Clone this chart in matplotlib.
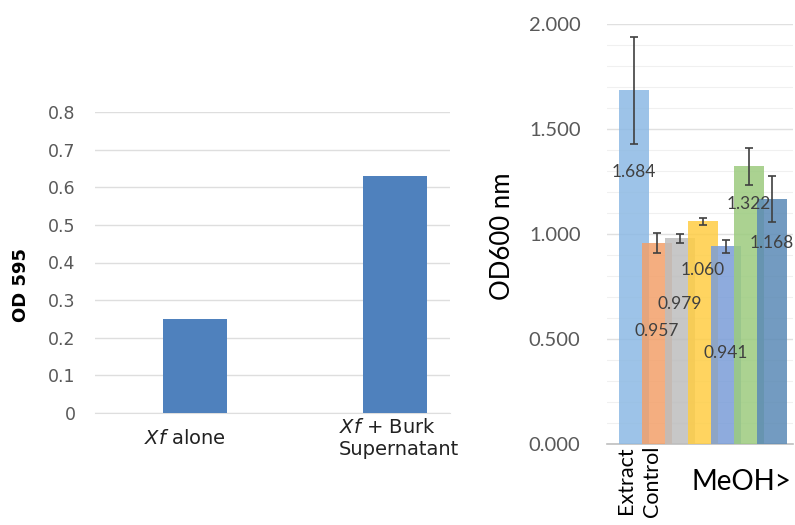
import matplotlib
matplotlib.use("Agg")
import matplotlib.pyplot as plt
import numpy as np

# left panel: Xf growth
groups = [r"$\it{Xf}$ alone", "$\\it{Xf}$ + Burk\nSupernatant"]
od595 = [0.25, 0.63]

# right panel: extract screen
od600 = [1.684, 0.957, 0.979, 1.060, 0.941, 1.322, 1.168]
od600_err = [0.256, 0.048, 0.020, 0.017, 0.030, 0.088, 0.110]
value_labels = ["1.684", "0.957", "0.979", "1.060", "0.941", "1.322", "1.168"]
bar_colors = ["#8cb9e4", "#f3a06a", "#bdbdbd", "#ffcd44", "#7a9dd8", "#9ccb7e", "#5b8ab6"]
# how far below the bar top each value label sits
label_drop = [0.39, 0.42, 0.31, 0.23, 0.51, 0.18, 0.21]

plt.rcParams["mathtext.fontset"] = "custom"
plt.rcParams["mathtext.rm"] = "DejaVu Sans"
plt.rcParams["mathtext.it"] = "DejaVu Sans:italic"

fig = plt.figure(figsize=(7.95, 5.25), dpi=100)
fig.patch.set_facecolor("white")

grid_c = "#dedede"
tick_c = "#595959"

# ---- left
ax1 = fig.add_axes([95 / 795, 112 / 525, 355 / 795, 301 / 525])
x1 = np.arange(len(od595))
ax1.bar(x1, od595, width=0.32, color="#4f81bd", zorder=3)
ax1.set_xlim(-0.5, 1.275)
ax1.set_ylim(0, 0.8)
ax1.set_yticks(np.arange(0, 0.81, 0.1))
ax1.set_yticklabels(["0"] + ["%.1f" % v for v in np.arange(0.1, 0.81, 0.1)],
                    fontfamily="DejaVu Sans", fontsize=12.5, color=tick_c)
ax1.tick_params(axis="y", length=0, pad=14)
ax1.set_xticks([])
ax1.grid(axis="y", color=grid_c, lw=1, zorder=0)
for s in ["top", "right", "left"]:
    ax1.spines[s].set_visible(False)
ax1.spines["bottom"].set_color(grid_c)
for i, g in enumerate(groups):
    ax1.text(i - 0.05 + 0.07 * i, -0.068, g, ha="center", va="center", multialignment="left",
             fontfamily="DejaVu Sans", fontsize=14, color="#222222", linespacing=1.15)
fig.text(21 / 795, 1 - 285 / 525, "OD 595", rotation=90, ha="center", va="center",
         fontfamily="DejaVu Sans", fontweight="bold", fontsize=13, color="black")

# ---- right
ax2 = fig.add_axes([607 / 795, 81 / 525, 186 / 795, 420 / 525])
x2 = np.arange(len(od600))
for i in x2:
    ax2.bar(i, od600[i], width=1.3, color=bar_colors[i], alpha=0.85, zorder=3 + i)
    ax2.errorbar(i, od600[i], yerr=od600_err[i], fmt="none", ecolor="#404040",
                 elinewidth=1.2, capsize=2.6, capthick=1.2, zorder=20)
    ax2.text(i, od600[i] - label_drop[i], value_labels[i], ha="center", va="center",
             fontfamily="Lato", fontsize=12.5, color="#404040", zorder=30)
ax2.set_xlim(-1.17, 6.91)
ax2.set_ylim(0, 2.0)
ax2.set_yticks(np.arange(0, 2.01, 0.5))
ax2.set_yticklabels(["%.3f" % v for v in np.arange(0, 2.01, 0.5)],
                    fontfamily="Lato", fontsize=14.5, color=tick_c)
ax2.set_yticks(np.arange(0, 2.01, 0.1), minor=True)
ax2.tick_params(axis="y", which="both", length=0, pad=19)
ax2.set_xticks([])
ax2.grid(axis="y", which="major", color="#e0e0e0", lw=1, zorder=0)
ax2.grid(axis="y", which="minor", color="#f0f0f0", lw=0.8, zorder=0)
for s in ["top", "right", "left"]:
    ax2.spines[s].set_visible(False)
ax2.spines["bottom"].set_color("#bfbfbf")
ax2.spines["bottom"].set_linewidth(1.2)

ax2.text(-0.35, -0.01, "Extract", rotation=90, ha="center", va="top",
         fontfamily="Lato", fontsize=15.5, color="black")
ax2.text(0.78, -0.01, "Control", rotation=90, ha="center", va="top",
         fontfamily="Lato", fontsize=15.5, color="black")
ax2.text(4.65, -0.18, "MeOH>", ha="center", va="center",
         fontfamily="Lato", fontsize=20, color="black")
fig.text(502 / 795, 1 - 236 / 525, "OD600 nm", rotation=90, ha="center", va="center",
         fontfamily="Lato", fontsize=18.5, color="black")

fig.savefig("out.png", dpi=100)
